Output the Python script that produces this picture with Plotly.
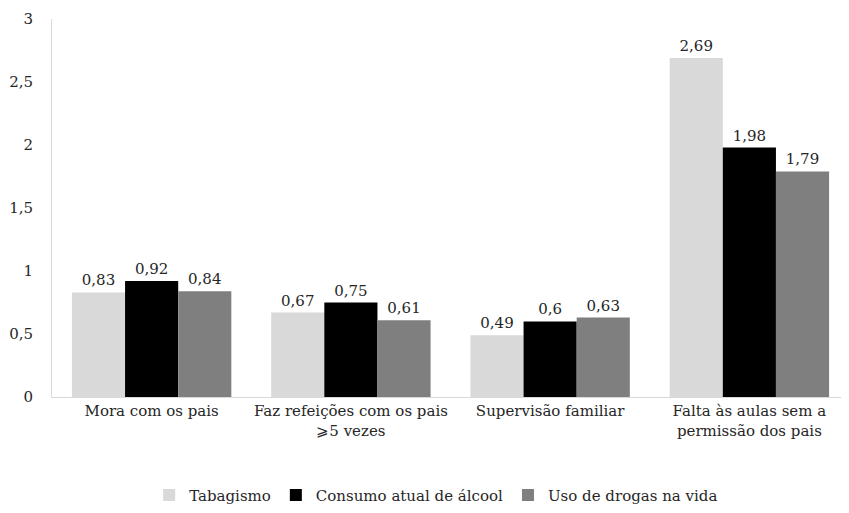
import plotly.graph_objects as go

categories = [
    "Mora com os pais",
    "Faz refeições com os pais<br>⩾5 vezes",
    "Supervisão familiar",
    "Falta às aulas sem a<br>permissão dos pais",
]
tabagismo = [0.83, 0.67, 0.49, 2.69]
alcool = [0.92, 0.75, 0.60, 1.98]
drogas = [0.84, 0.61, 0.63, 1.79]
y_ticks = [0, 0.5, 1, 1.5, 2, 2.5, 3]

_FONT = dict(family="DejaVu Serif", size=15, color="#262626")


def _fmt(v):
    return f"{v:g}".replace(".", ",")


series = [
    ("Tabagismo", tabagismo, "#d9d9d9"),
    ("Consumo atual de álcool", alcool, "#000000"),
    ("Uso de drogas na vida", drogas, "#7f7f7f"),
]

fig = go.Figure()
for name, vals, color in series:
    fig.add_trace(go.Bar(
        x=categories, y=vals, name=name,
        marker=dict(color=color, line=dict(width=0)),
        text=[_fmt(v) for v in vals], textposition="outside",
        textfont=_FONT, cliponaxis=False,
    ))

# page body has an 8px margin, so sizes are trimmed to fit the window
fig.update_layout(
    width=841, height=505,
    paper_bgcolor="white", plot_bgcolor="white",
    font=_FONT,
    barmode="group", bargap=0.2, bargroupgap=0,
    margin=dict(l=44, r=0, t=11, b=116),
    xaxis=dict(showline=True, linecolor="#d9d9d9", linewidth=1, ticks="",
               showgrid=False, tickfont=_FONT),
    yaxis=dict(range=[0, 3], tickvals=y_ticks, ticktext=[_fmt(v) for v in y_ticks],
               showline=True, linecolor="#d9d9d9", linewidth=1, showgrid=False,
               zeroline=False, ticks="", ticklabelstandoff=15, tickfont=_FONT),
    legend=dict(orientation="h", x=0.482, xanchor="center", y=-0.26, yanchor="middle",
                font=_FONT, itemwidth=30, traceorder="normal"),
    showlegend=True,
)

fig.write_html("out.html")
